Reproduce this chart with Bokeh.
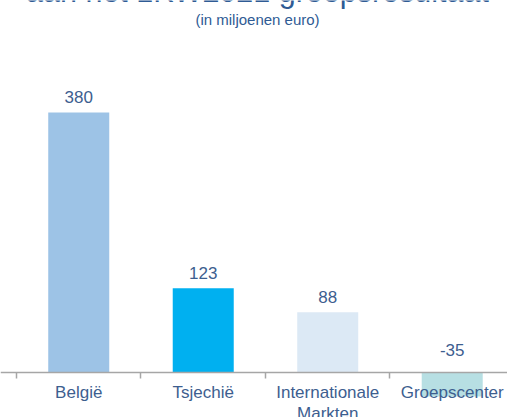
from bokeh.plotting import figure
from bokeh.models import ColumnDataSource, LinearAxis, FixedTicker, Range1d, Label
from bokeh.core.properties import value
from bokeh.embed import file_html
from bokeh.resources import INLINE

categories = ["België", "Tsjechië", "Internationale\nMarkten", "Groepscenter"]
values = [380, 123, 88, -35]
colors = ["#9dc3e6", "#00b0f0", "#dce9f5", "#b7dfe3"]
title_text = "aan het 1KW2021 groepsresultaat"
subtitle_text = "(in miljoenen euro)"

FONT = "Liberation Sans"
TXT = "#3d5e8f"

idx = list(range(len(values)))
src = ColumnDataSource(dict(
    x=[i + 0.5 for i in idx],
    top=[max(v, 0) for v in values],
    bottom=[min(v, 0) for v in values],
    color=colors,
    label=[str(v) for v in values],
    ly=[max(v, 0) for v in values],
    loff=[-9.5 if v >= 0 else -16 for v in values],
    cat=categories,
    zero=[0] * len(values),
))

p = figure(width=507, height=417, output_backend="svg", toolbar_location=None,
           x_range=Range1d(-0.1285, 3.944), y_range=Range1d(-65.8, 543.9),
           x_axis_location=None, y_axis_location=None, min_border=0,
           outline_line_color=None, background_fill_color="white",
           border_fill_color="white",
           styles={"margin": "0px"})
p.xgrid.visible = False
p.ygrid.visible = False

p.vbar(x="x", top="top", bottom="bottom", width=0.49, fill_color="color",
       line_color=None, source=src)

ticks = [0, 1, 2, 3, 4]
ax = LinearAxis(fixed_location=0, ticker=FixedTicker(ticks=ticks),
                major_label_overrides={t: "" for t in ticks},
                major_tick_in=0, major_tick_out=6,
                minor_tick_in=0, minor_tick_out=0,
                axis_line_color="#a6a6a6", axis_line_width=1.5,
                major_tick_line_color="#a6a6a6", major_tick_line_width=1.5)
p.add_layout(ax, "below")

p.text(x="x", y="ly", text="label", y_offset="loff", source=src,
       text_align="center", text_baseline="bottom",
       text_font=value(FONT), text_font_size="17px", text_color=TXT)

p.text(x="x", y="zero", text="cat", y_offset=11, source=src,
       text_align="center", text_baseline="top", text_line_height=1.1,
       text_font=value(FONT), text_font_size="17px", text_color=TXT)

p.add_layout(Label(x=257, y=417 + 10, x_units="screen", y_units="screen",
                   text=title_text, text_align="center", text_baseline="alphabetic",
                   text_font=FONT, text_font_size="30.5px", text_color="#2f5b94"))
p.add_layout(Label(x=257, y=417 - 19, x_units="screen", y_units="screen",
                   text=subtitle_text, text_align="center", text_baseline="alphabetic",
                   text_font=FONT, text_font_size="15px", text_color="#2f5b94"))

open("out.html", "w").write(file_html(p, INLINE))
